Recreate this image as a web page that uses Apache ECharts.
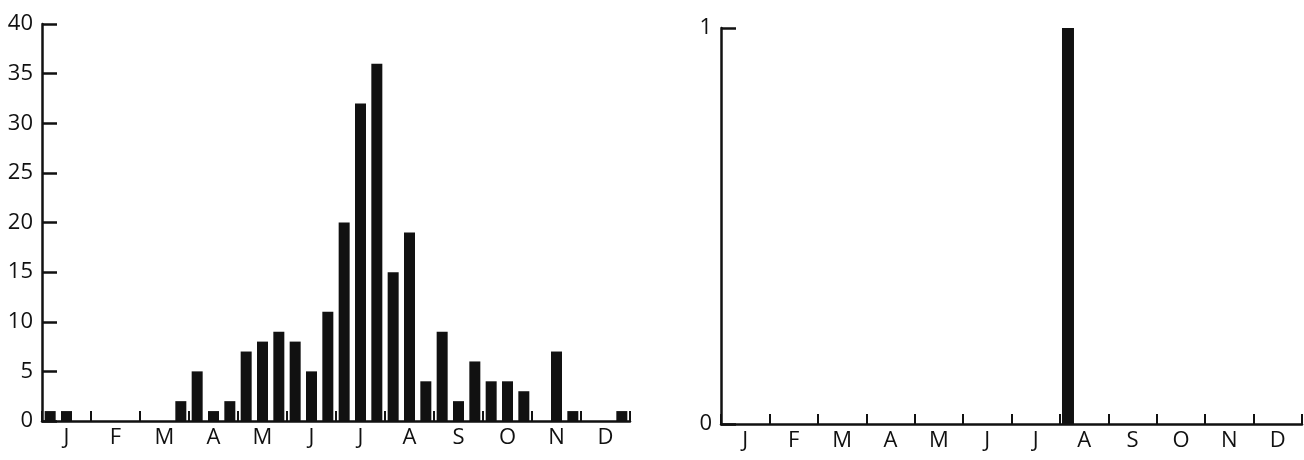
<!DOCTYPE html>
<html>
<head>
<meta charset="utf-8">
<script src="https://cdn.jsdelivr.net/npm/echarts@6/dist/echarts.min.js"></script>
<style>
  html, body { margin: 0; padding: 0; background: #fff; }
  #chart { width: 1304px; height: 460px; }
</style>
</head>
<body>
<div id="chart"></div>
<script>
// Month initials (tick labels under each month)
const monthLabels = ['J', 'F', 'M', 'A', 'M', 'J', 'J', 'A', 'S', 'O', 'N', 'D'];
// Ten-day periods (3 per month) – category names
const decadeNames = monthLabels.flatMap((m, i) => [i + '-1', i + '-2', i + '-3']);
// Left panel counts per ten-day period
const leftCounts = [
  1, 1, 0,   // Jan
  0, 0, 0,   // Feb
  0, 0, 2,   // Mar
  5, 1, 2,   // Apr
  7, 8, 9,   // May
  8, 5, 11,  // Jun
  20, 32, 36,// Jul
  15, 19, 4, // Aug
  9, 2, 6,   // Sep
  4, 4, 3,   // Oct
  0, 7, 1,   // Nov
  0, 0, 1    // Dec
];
// Right panel counts per ten-day period
const rightCounts = [
  0, 0, 0,
  0, 0, 0,
  0, 0, 0,
  0, 0, 0,
  0, 0, 0,
  0, 0, 0,
  0, 0, 0,
  1, 0, 0,
  0, 0, 0,
  0, 0, 0,
  0, 0, 0,
  0, 0, 0
];
const leftYTicks = { min: 0, max: 40, interval: 5 };
const rightYTicks = { min: 0, max: 1, interval: 1 };

const FONT = '"Open Sans", "DejaVu Sans", sans-serif';
const INK = '#111';

function xAxisFor(gridIndex) {
  return {
    type: 'category',
    gridIndex: gridIndex,
    data: decadeNames,
    boundaryGap: true,
    axisLine: { lineStyle: { color: INK, width: 2.5 } },
    axisTick: {
      show: true,
      inside: true,
      length: 10,
      interval: (idx) => idx % 3 === 0,
      lineStyle: { color: INK, width: 2 }
    },
    axisLabel: {
      interval: (idx) => idx % 3 === 1,
      formatter: (v, idx) => monthLabels[Math.floor(idx / 3)],
      color: INK,
      fontFamily: FONT,
      fontSize: 22,
      margin: 6
    },
    splitLine: { show: false }
  };
}

function yAxisFor(gridIndex, t) {
  return {
    type: 'value',
    gridIndex: gridIndex,
    min: t.min,
    max: t.max,
    interval: t.interval,
    axisLine: { show: true, lineStyle: { color: INK, width: 2.5 } },
    axisTick: { show: true, inside: true, length: 15, lineStyle: { color: INK, width: 2.5 } },
    axisLabel: { color: INK, fontFamily: FONT, fontSize: 22, margin: 9 },
    splitLine: { show: false }
  };
}

const chart = echarts.init(document.getElementById('chart'), null, { renderer: 'canvas' });
chart.setOption({
  animation: false,
  backgroundColor: '#fff',
  grid: [
    { left: 42, top: 24, width: 588, height: 397 },
    { left: 721, top: 28, width: 581, height: 396 }
  ],
  xAxis: [xAxisFor(0), xAxisFor(1)],
  yAxis: [yAxisFor(0, leftYTicks), yAxisFor(1, rightYTicks)],
  series: [
    {
      type: 'bar',
      xAxisIndex: 0,
      yAxisIndex: 0,
      data: leftCounts,
      barWidth: 11,
      itemStyle: { color: INK }
    },
    {
      type: 'bar',
      xAxisIndex: 1,
      yAxisIndex: 1,
      data: rightCounts,
      barWidth: 12,
      itemStyle: { color: INK }
    }
  ]
});
</script>
</body>
</html>
